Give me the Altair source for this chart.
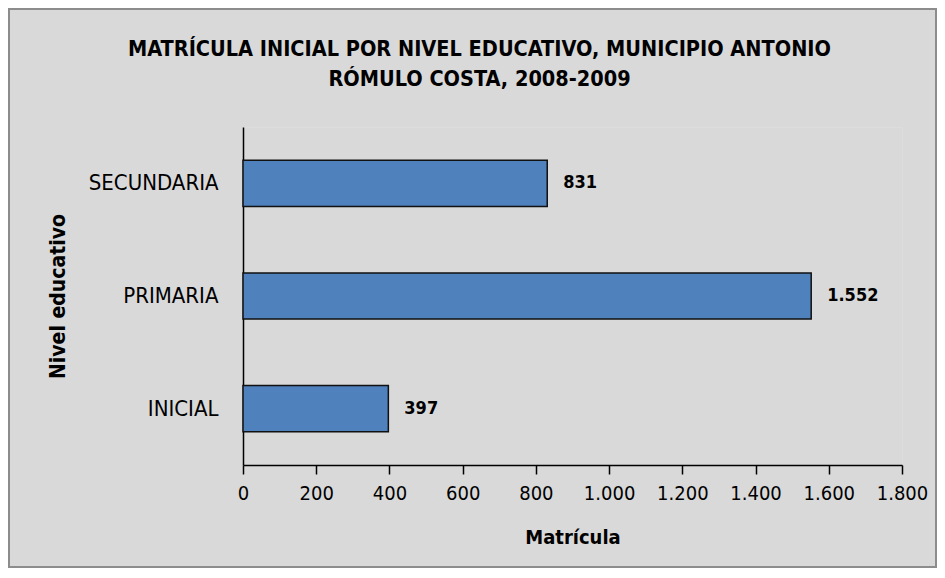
import altair as alt
import pandas as pd

niveles = ["SECUNDARIA", "PRIMARIA", "INICIAL"]
matricula = [831, 1552, 397]
x_ticks = [0, 200, 400, 600, 800, 1000, 1200, 1400, 1600, 1800]

df = pd.DataFrame({"nivel": niveles, "matricula": matricula})

FONT = "'Liberation Sans Narrow', 'DejaVu Sans Condensed', 'Liberation Sans', sans-serif"
W, H = 659, 338
PL, PT, PR, PB = 235, 119, 35, 103

y_enc = alt.Y(
    "nivel:N",
    sort=niveles,
    scale=alt.Scale(paddingInner=0.59, paddingOuter=0.295),
    axis=alt.Axis(
        title="Nivel educativo",
        titleFont=FONT, titleFontSize=21, titleFontWeight="bold", titleColor="black",
        titleAngle=-90, titleX=-185, titleY=H / 2, titleAlign="center", titleBaseline="middle",
        labelFont=FONT, labelFontSize=22, labelColor="black", labelPadding=25,
        ticks=False, domainColor="black", domainWidth=1.5,
    ),
)

x_enc = alt.X(
    "matricula:Q",
    scale=alt.Scale(domain=[0, 1800], nice=False),
    axis=alt.Axis(
        title="Matrícula",
        values=x_ticks, format=",d", labelOverlap=False, labelFlush=False,
        titleFont=FONT, titleFontSize=20, titleFontWeight="bold", titleColor="black",
        titleX=W / 2, titleY=72, titleAlign="center", titleBaseline="middle",
        labelFont=FONT, labelFontSize=20, labelColor="black", labelPadding=9,
        tickSize=9, tickColor="black", tickWidth=1.5,
        domainColor="black", domainWidth=1.5, grid=False,
    ),
)

bars = alt.Chart(df).mark_bar(
    color="#4f81bd", stroke="#111111", strokeWidth=1.5
).encode(x=x_enc, y=y_enc)

labels = alt.Chart(df).mark_text(
    align="left", baseline="middle", dx=16, font=FONT, fontSize=18, fontWeight="bold", color="black"
).encode(x="matricula:Q", y=alt.Y("nivel:N", sort=niveles), text=alt.Text("matricula:Q", format=",d"))

frame = alt.Chart(df).mark_rect(fill=None, stroke="#8c8c8c", strokeWidth=2).encode(
    x=alt.value(-PL + 1), x2=alt.value(W + PR - 1), y=alt.value(-PT + 1), y2=alt.value(H + PB - 1)
)

chart = alt.layer(frame, bars, labels).properties(
    width=W, height=H,
    padding={"left": PL, "top": PT, "right": PR, "bottom": PB},
    autosize=alt.AutoSizeParams(type="none"),
    background="#d9d9d9",
    title=alt.TitleParams(
        ["MATRÍCULA INICIAL POR NIVEL  EDUCATIVO, MUNICIPIO ANTONIO", "RÓMULO COSTA, 2008-2009"],
        font=FONT, fontSize=21.5, fontWeight="bold", color="black",
        anchor="middle", frame="group", dx=-93, dy=82, offset=0, lineHeight=30,
    ),
).configure_view(stroke=None).configure(
    locale={"number": {"decimal": ",", "thousands": ".", "grouping": [3], "currency": ["", ""]}}
)

chart.save("out.html", embed_options={"renderer": "svg", "actions": False})
